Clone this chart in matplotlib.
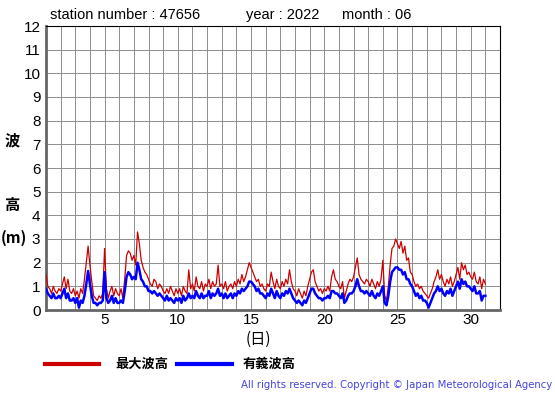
import numpy as np
import matplotlib
matplotlib.use("Agg")
import matplotlib.pyplot as plt

plt.rcParams['font.family'] = ['Liberation Sans', 'Noto Sans CJK JP', 'DejaVu Sans']

# 3-hourly values, June 2022, station 47656
max_wave = [
    1.5, 1.0, 0.9, 0.7, 1.0, 0.8, 0.7, 0.9,
    0.8, 1.1, 1.4, 0.9, 1.3, 0.8, 0.7, 0.9,
    0.6, 0.8, 0.5, 0.9, 0.7, 1.3, 2.0, 2.7,
    1.9, 1.2, 0.6, 0.5, 0.4, 0.6, 0.5, 0.7,
    2.6, 0.9, 0.5, 0.8, 1.0, 0.6, 0.9, 0.7,
    0.6, 0.9, 0.5, 1.3, 2.3, 2.5, 2.4, 2.1,
    2.3, 1.9, 3.3, 2.8, 2.1, 1.8, 1.6, 1.5,
    1.3, 1.1, 1.0, 1.3, 1.2, 0.9, 1.1, 1.0,
    0.8, 0.7, 0.9, 0.7, 1.0, 0.8, 0.6, 0.9,
    0.7, 0.9, 0.6, 1.0, 0.8, 0.7, 1.7, 0.9,
    1.1, 0.8, 1.4, 1.0, 0.9, 1.2, 0.8, 1.1,
    1.0, 1.3, 0.9, 1.2, 1.0, 1.1, 1.9, 1.0,
    1.1, 0.9, 1.2, 0.8, 1.0, 1.1, 0.9, 1.2,
    1.0, 1.3, 1.1, 1.5, 1.2, 1.4, 1.7, 2.0,
    1.8, 1.6, 1.4, 1.2, 1.3, 1.0, 1.1, 0.9,
    0.8, 1.1, 1.0, 1.6, 1.2, 0.9, 1.3, 1.0,
    0.9, 1.2, 1.0, 1.3, 1.1, 1.7, 1.2, 0.9,
    0.8, 0.6, 0.9, 0.7, 0.5, 0.8, 0.6, 1.0,
    1.3, 1.6, 1.7, 1.2, 1.0, 0.8, 0.9, 0.7,
    0.9, 0.8, 1.0, 0.8, 1.4, 1.7, 1.3, 1.2,
    1.0, 0.9, 1.2, 0.5, 0.8, 1.1, 1.3, 1.2,
    1.4, 1.8, 2.2, 1.5, 1.3, 1.2, 1.1, 1.3,
    1.2, 1.0, 1.3, 1.1, 0.9, 1.2, 1.0, 1.3,
    2.1, 0.6, 0.4, 1.0, 1.9, 2.6, 2.7, 3.0,
    2.8, 2.6, 2.9, 2.4, 2.7, 2.1, 2.2, 1.6,
    1.5, 1.2, 1.0, 1.1, 0.9, 1.0, 0.8, 0.7,
    0.6, 0.5, 0.7, 0.9, 1.2, 1.4, 1.7, 1.3,
    1.5, 1.2, 1.0, 1.3, 1.1, 1.4, 1.0, 1.2,
    1.5, 1.8, 1.3, 2.0, 1.7, 1.9, 1.5, 1.6,
    1.4, 1.3, 1.6, 1.2, 1.1, 1.4, 0.9, 1.3,
    1.1,
]

sig_wave = [
    0.9, 0.7, 0.6, 0.5, 0.7, 0.5, 0.5, 0.6,
    0.5, 0.7, 0.9, 0.5, 0.7, 0.4, 0.4, 0.5,
    0.3, 0.5, 0.1, 0.4, 0.3, 0.6, 1.1, 1.65,
    1.1, 0.6, 0.3, 0.3, 0.2, 0.3, 0.3, 0.4,
    1.6, 0.5, 0.3, 0.4, 0.6, 0.3, 0.5, 0.3,
    0.3, 0.4, 0.3, 0.8, 1.4, 1.6, 1.5, 1.3,
    1.4, 1.3, 2.0, 1.7, 1.3, 1.2, 1.0, 1.0,
    0.8, 0.8, 0.7, 0.8, 0.7, 0.6, 0.7, 0.6,
    0.5, 0.4, 0.6, 0.4, 0.5, 0.4, 0.3, 0.5,
    0.4, 0.5, 0.3, 0.6, 0.4, 0.5, 0.7, 0.5,
    0.6, 0.5, 0.8, 0.6, 0.5, 0.7, 0.5, 0.6,
    0.6, 0.8, 0.5, 0.7, 0.6, 0.7, 0.9, 0.6,
    0.7, 0.5, 0.7, 0.5, 0.6, 0.7, 0.5, 0.7,
    0.6, 0.8, 0.7, 0.9, 0.8, 0.9, 1.0, 1.2,
    1.2, 1.1, 1.0, 0.8, 0.9, 0.7, 0.7, 0.6,
    0.5, 0.7, 0.6, 0.9, 0.7, 0.5, 0.8, 0.6,
    0.5, 0.7, 0.6, 0.8, 0.7, 0.9, 0.7, 0.5,
    0.4, 0.3, 0.4, 0.3, 0.2, 0.4, 0.3, 0.5,
    0.7, 0.9, 0.9, 0.7, 0.6, 0.5, 0.5, 0.4,
    0.5, 0.5, 0.6, 0.5, 0.8, 0.8, 0.7, 0.7,
    0.6, 0.5, 0.7, 0.3, 0.4, 0.6, 0.7, 0.7,
    0.8, 1.0, 1.3, 1.0, 0.8, 0.8, 0.7, 0.8,
    0.7, 0.6, 0.8, 0.6, 0.5, 0.7, 0.6, 0.8,
    1.0, 0.3, 0.2, 0.6, 1.2, 1.6, 1.7, 1.8,
    1.8, 1.7, 1.7, 1.5, 1.6, 1.3, 1.3, 1.1,
    1.0, 0.8, 0.6, 0.7, 0.5, 0.6, 0.4, 0.4,
    0.3, 0.1, 0.3, 0.5, 0.7, 0.8, 1.0, 0.8,
    0.9, 0.7, 0.6, 0.8, 0.7, 0.9, 0.6, 0.8,
    1.0, 1.2, 0.9, 1.3, 1.1, 1.2, 1.0, 1.0,
    0.9, 0.8, 1.0, 0.7, 0.7, 0.8, 0.4, 0.6,
    0.6,
]

days = 1 + np.arange(len(max_wave)) / 8.0
xticks = [5, 10, 15, 20, 25, 30]
yticks = list(range(0, 13))

red = '#cc0000'
blue = '#0000ff'

fig = plt.figure(figsize=(5.55, 3.95), dpi=100)
ax = fig.add_axes([46/555, 85/395, 454/555, 284/395])

ax.plot(days, max_wave, color=red, lw=0.9, zorder=3)
ax.plot(days, sig_wave, color=blue, lw=1.8, zorder=4)

ax.set_xlim(1, 32)
ax.set_ylim(0, 12)
ax.set_xticks(xticks)
ax.set_xticks(range(1, 33), minor=True)
ax.set_yticks(yticks)
ax.grid(True, which='both', color='#8c8c8c', lw=0.7)
ax.tick_params(axis='both', which='both', length=0, labelsize=11, pad=4)
ax.tick_params(axis='x', pad=2)

for s in ['top', 'right']:
    ax.spines[s].set_color('black')
    ax.spines[s].set_linewidth(0.8)
for s in ['left', 'bottom']:
    ax.spines[s].set_color('#666666')
    ax.spines[s].set_linewidth(2)

fig.text(50/555, 1 - 15/395, 'station number : 47656', fontsize=10.5, va='center')
fig.text(246/555, 1 - 15/395, 'year : 2022', fontsize=10.5, va='center')
fig.text(342/555, 1 - 15/395, 'month : 06', fontsize=10.5, va='center')

cjk = ['Noto Sans CJK JP', 'DejaVu Sans']
fig.text(12/555, 1 - 140/395, '波', fontsize=11, fontweight='bold', ha='center', va='center', family=cjk)
fig.text(12/555, 1 - 205/395, '高', fontsize=11, fontweight='bold', ha='center', va='center', family=cjk)
fig.text(14/555, 1 - 238/395, '(m)', fontsize=11, fontweight='bold', ha='center', va='center', family=cjk)
fig.text(258/555, 1 - 339/395, '(日)', fontsize=11, ha='center', va='center', family=cjk)

# legend drawn by hand at the bottom
fig.add_artist(plt.Line2D([45/555, 99/555], [1 - 364/395] * 2, color=red, lw=3))
fig.text(115/555, 1 - 364/395, '最大波高', fontsize=9.5, fontweight='bold', va='center', family=cjk)
fig.add_artist(plt.Line2D([177/555, 232/555], [1 - 364/395] * 2, color=blue, lw=3))
fig.text(243/555, 1 - 364/395, '有義波高', fontsize=9.5, fontweight='bold', va='center', family=cjk)

fig.text(552/555, 1 - 385/395, 'All rights reserved. Copyright © Japan Meteorological Agency',
         fontsize=7.3, color='#4444dd', ha='right', va='center', family=['DejaVu Sans'])

fig.savefig('out.png', dpi=100)
